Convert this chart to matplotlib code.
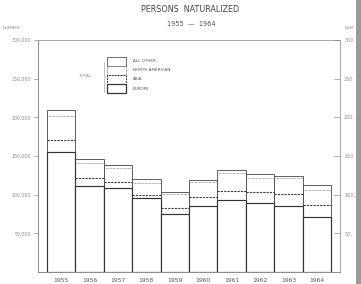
import matplotlib
matplotlib.use("Agg")
import matplotlib.pyplot as plt
import matplotlib.patches as mpatches

years = ["1955", "1956", "1957", "1958", "1959", "1960", "1961", "1962", "1963", "1964"]
# thousands of persons
europe = [155.5, 111.5, 108.0, 96.0, 75.3, 85.0, 93.6, 89.0, 85.0, 70.5]
asia = [15.5, 10.5, 8.0, 4.0, 7.1, 12.0, 11.4, 15.0, 16.0, 15.5]
north_american = [31.0, 19.0, 19.0, 15.0, 18.6, 19.7, 23.0, 18.0, 20.0, 20.0]
all_other = [7.5, 4.9, 3.0, 4.9, 2.9, 2.7, 4.5, 5.3, 3.2, 6.2]

right_ticks = [50, 100, 150, 200, 250, 300]
right_labels = ["50,", "100,", "150", "200", "250", "300"]
left_labels = ["50,000", "100,000", "150,000", "200,000", "250,000", "300,000"]
legend_labels = ["ALL OTHER", "NORTH AMERICAN", "ASIA", "EUROPE"]

fig = plt.figure(figsize=(3.61, 2.84), dpi=100)
ax = fig.add_axes([38/361, 1-272/284, (340-38)/361, (272-40)/284])

x = list(range(len(years)))
edge = "#333333"
tick_col = "#8a8a8a"

asia_top = [e + a for e, a in zip(europe, asia)]
na_top = [t + n for t, n in zip(asia_top, north_american)]
total = [t + o for t, o in zip(na_top, all_other)]

ax.bar(x, total, width=1.0, color="white", edgecolor="#444444", linewidth=0.6)
ax.bar(x, europe, width=1.0, color="white", edgecolor=edge, linewidth=0.85)
xl = [i - 0.5 for i in x]
xr = [i + 0.5 for i in x]
ax.hlines(asia_top, xl, xr, colors="#3a3a3a", linestyles=(0, (2, 1)), linewidth=0.8)
ax.hlines(na_top, xl, xr, colors="#666666", linestyles=(0, (1, 1)), linewidth=0.5)

ax.set_xlim(-0.817, 9.817)
ax.set_ylim(0, 300)
for s in ["top", "right"]:
    ax.spines[s].set_color("#9a9a9a")
    ax.spines[s].set_linewidth(0.6)
for s in ["left", "bottom"]:
    ax.spines[s].set_color("#777777")
    ax.spines[s].set_linewidth(0.6)

ax.set_xticks(x)
ax.set_xticklabels(years, fontsize=4.3, color="#555555")
ax.tick_params(axis="x", length=0, pad=4)
ax.set_yticks(right_ticks)
ax.set_yticklabels(left_labels, fontsize=3.4, color=tick_col)
ax.tick_params(axis="y", length=3, width=0.5, color="#888888", pad=2)

ax2 = ax.twinx()
ax2.set_ylim(0, 300)
ax2.set_yticks(right_ticks)
ax2.set_yticklabels(right_labels, fontsize=3.6, color=tick_col)
ax2.tick_params(axis="y", direction="in", length=4, width=0.5, color="#888888", pad=3)
for s in ax2.spines.values():
    s.set_visible(False)

fig.text(190/361, 1-10/284, "PERSONS  NATURALIZED", ha="center", va="center",
         fontsize=5.8, color="#444444")
fig.text(191/361, 1-24/284, "1955  \u2014  1964", ha="center", va="center",
         fontsize=4.8, color="#555555")
fig.text(12/361, 1-28/284, "NUMBER", ha="center", va="center", fontsize=3.0, color=tick_col)
fig.text(349/361, 1-28/284, "NUM", ha="center", va="center", fontsize=3.0, color=tick_col)

# legend
bx0, bx1 = 107/361, 126/361
tops = [57, 66, 75, 84]
styles = ["-", (0, (1, 1)), (0, (2, 1)), "-"]
widths = [0.5, 0.5, 0.7, 0.9]
for lab, t, st, lw in zip(legend_labels, tops, styles, widths):
    r = mpatches.Rectangle((bx0, 1-(t+9)/284), bx1-bx0, 9/284, transform=fig.transFigure,
                           facecolor="white", edgecolor=edge, linestyle=st, linewidth=lw)
    fig.patches.append(r)
    fig.text(133/361, 1-(t+4.5)/284, lab, ha="left", va="center", fontsize=3.0,
             color="#555555")
fig.add_artist(plt.Line2D([104/361, 104/361], [1-62/284, 1-92/284],
                          transform=fig.transFigure, color="#aaaaaa", linewidth=0.5))
fig.text(85/361, 1-76/284, "TOTAL", ha="center", va="center", fontsize=3.0, color=tick_col)

# scan edge band
fig.patches.append(mpatches.Rectangle((356/361, 0), 5/361, 1, transform=fig.transFigure,
                                      facecolor="#9a9a9a", edgecolor="none"))

fig.savefig("out.png", dpi=100)
